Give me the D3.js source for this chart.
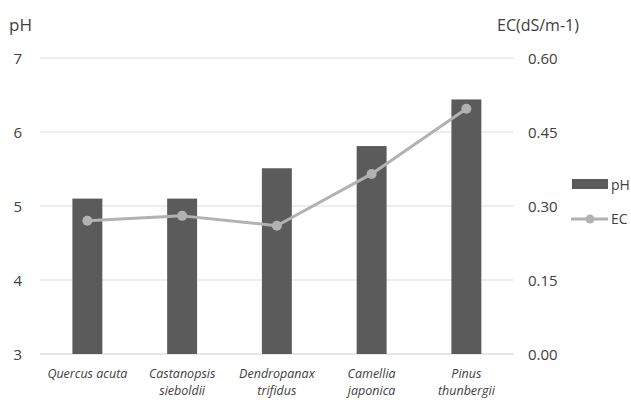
<!DOCTYPE html>
<html>
<head>
<meta charset="utf-8">
<script src="https://cdn.jsdelivr.net/npm/d3@7"></script>
<style>
  body { margin: 0; background: #fff; }
  svg text { font-family: "Open Sans", Lato, sans-serif; fill: #404040; }
</style>
</head>
<body>
<svg id="chart" width="631" height="400"></svg>
<script>
// Species (two-line italic labels)
const species = [
  ["Quercus acuta"],
  ["Castanopsis", "sieboldii"],
  ["Dendropanax", "trifidus"],
  ["Camellia", "japonica"],
  ["Pinus", "thunbergii"]
];
const speciesKeys = ["Quercus acuta", "Castanopsis sieboldii", "Dendropanax trifidus", "Camellia japonica", "Pinus thunbergii"];
const phValues = [5.1, 5.1, 5.51, 5.81, 6.44];
const ecValues = [0.27, 0.28, 0.26, 0.365, 0.497];
const phTicks = [3, 4, 5, 6, 7];
const ecTicks = [0, 0.15, 0.30, 0.45, 0.60];

const svg = d3.select("#chart");
const plotLeft = 40, plotRight = 513.75, plotTop = 58, plotBottom = 354;

const x = d3.scaleBand().domain(speciesKeys).range([plotLeft, plotRight]).paddingInner(0.684).paddingOuter(0.342);
const yPh = d3.scaleLinear().domain([3, 7]).range([plotBottom, plotTop]);
const yEc = d3.scaleLinear().domain([0, 0.6]).range([plotBottom, plotTop]);

// Horizontal gridlines
svg.append("g").selectAll("line").data(phTicks).join("line")
  .attr("x1", plotLeft).attr("x2", plotRight)
  .attr("y1", d => yPh(d)).attr("y2", d => yPh(d))
  .attr("stroke", d => d === 3 ? "#d0d0d0" : "#dedede").attr("stroke-width", 1.2);

// Left axis labels
svg.append("g").selectAll("text").data(phTicks).join("text")
  .attr("x", 22).attr("y", d => yPh(d) + 5.5)
  .attr("text-anchor", "end").attr("font-size", 15)
  .text(d => d);

// Right axis labels
svg.append("g").selectAll("text").data(ecTicks).join("text")
  .attr("x", 528).attr("y", d => yEc(d) + 5.5)
  .attr("font-size", 15)
  .text(d => d.toFixed(2));

// Axis titles
svg.append("text").attr("x", 9).attr("y", 31).attr("font-size", 17).text("pH");
svg.append("text").attr("x", 497).attr("y", 31).attr("font-size", 16).text("EC(dS/m-1)");

// pH bars
svg.append("g").selectAll("rect").data(phValues).join("rect")
  .attr("x", (d, i) => x(speciesKeys[i]))
  .attr("width", x.bandwidth())
  .attr("y", d => yPh(d))
  .attr("height", d => yPh(3) - yPh(d))
  .attr("fill", "#5b5b5b");

// EC line with markers
const line = d3.line()
  .x((d, i) => x(speciesKeys[i]) + x.bandwidth() / 2)
  .y(d => yEc(d));
svg.append("path").datum(ecValues)
  .attr("d", line).attr("fill", "none")
  .attr("stroke", "#b2b2b2").attr("stroke-width", 3).attr("stroke-linejoin", "round");
svg.append("g").selectAll("circle").data(ecValues).join("circle")
  .attr("cx", (d, i) => x(speciesKeys[i]) + x.bandwidth() / 2)
  .attr("cy", d => yEc(d))
  .attr("r", 5).attr("fill", "#b2b2b2");

// Category labels
const lab = svg.append("g").selectAll("text").data(species).join("text")
  .attr("text-anchor", "middle").attr("font-size", 12.5).attr("font-style", "italic")
  .attr("x", (d, i) => x(speciesKeys[i]) + x.bandwidth() / 2);
lab.selectAll("tspan").data(d => d).join("tspan")
  .attr("x", function () { return this.parentNode.getAttribute("x"); })
  .attr("y", (d, j) => 378 + j * 17)
  .text(d => d);

// Legend
const lg = svg.append("g");
lg.append("rect").attr("x", 572).attr("y", 179).attr("width", 36).attr("height", 10).attr("fill", "#5b5b5b");
lg.append("text").attr("x", 611).attr("y", 190).attr("font-size", 14).text("pH");
lg.append("line").attr("x1", 571).attr("x2", 608).attr("y1", 219).attr("y2", 219)
  .attr("stroke", "#b2b2b2").attr("stroke-width", 3);
lg.append("circle").attr("cx", 590).attr("cy", 219).attr("r", 4.5).attr("fill", "#b2b2b2");
lg.append("text").attr("x", 611).attr("y", 224).attr("font-size", 14).text("EC");
</script>
</body>
</html>
